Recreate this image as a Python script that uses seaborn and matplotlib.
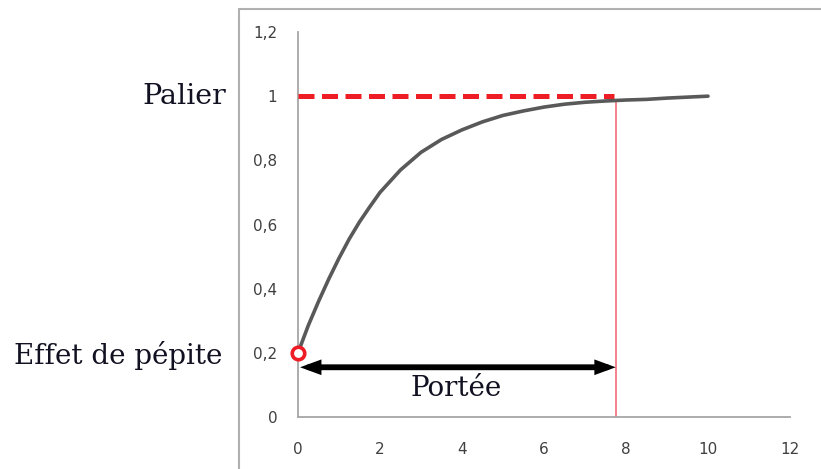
import matplotlib
matplotlib.use("Agg")
import matplotlib.pyplot as plt
import seaborn as sns
import pandas as pd

sns.set_theme(style="white")
plt.rcParams['font.family'] = ['DejaVu Sans']

# Data
lag = [0.0, 0.25, 0.5, 0.75, 1.0, 1.25, 1.5, 1.75, 2.0, 2.5, 3.0, 3.5, 4.0, 4.5,
       5.0, 5.5, 6.0, 6.5, 7.0, 7.5, 8.0, 8.5, 9.0, 9.5, 10.0]
gamma = [0.20, 0.285, 0.36, 0.43, 0.495, 0.555, 0.608, 0.655, 0.70, 0.77, 0.825, 0.865,
         0.895, 0.92, 0.94, 0.954, 0.966, 0.975, 0.981, 0.985, 0.988, 0.99, 0.994,
         0.997, 1.0]
nugget = 0.2
sill = 1.0
range_ = 7.75
arrow_y = 0.155
x_ticks = [0, 2, 4, 6, 8, 10, 12]
y_ticks = [0, 0.2, 0.4, 0.6, 0.8, 1.0, 1.2]
y_tick_labels = ["0", "0,2", "0,4", "0,6", "0,8", "1", "1,2"]

df = pd.DataFrame({"h": lag, "g": gamma})

W, H = 821, 469
fig = plt.figure(figsize=(W / 100, H / 100), dpi=100)

# outer frame (light grey border at left and top)
fig.add_artist(plt.Line2D([239 / W, 239 / W], [0, 1 - 9 / H], color="#b0b0b0", lw=1.5,
                          transform=fig.transFigure))
fig.add_artist(plt.Line2D([239 / W, 1], [1 - 9 / H, 1 - 9 / H], color="#b0b0b0", lw=1.5,
                          transform=fig.transFigure))

ax = fig.add_axes([298 / W, (H - 417) / H, (790 - 298) / W, (417 - 32) / H])
ax.set_xlim(0, 12)
ax.set_ylim(0, 1.2)

# sill dashed line
ax.plot([0, range_ - 0.05], [sill, sill], color="#ee1c25", lw=3.6,
        dashes=(3.2, 1.5), zorder=3)
# range vertical line
ax.plot([range_, range_], [0, 0.985], color="#f06070", lw=1.1, zorder=2)

# variogram curve
sns.lineplot(data=df, x="h", y="g", ax=ax, color="#595959", lw=2.6, zorder=4)

# nugget marker
ax.plot([0], [nugget], marker="o", ms=9, mfc="white", mec="#ee1c25", mew=2.6,
        zorder=5, clip_on=False)

# range arrow
ax.annotate("", xy=(range_, arrow_y), xytext=(0.05, arrow_y),
            arrowprops=dict(arrowstyle="<|-|>,head_length=0.6,head_width=0.22",
                            color="black", lw=4.2, shrinkA=0, shrinkB=0,
                            joinstyle="miter"))
ax.text(3.85, 0.088, "Portée", family="DejaVu Serif", fontsize=20,
        color="#111122", ha="center", va="center")

ax.set_xticks(x_ticks)
ax.set_xticklabels([str(t) for t in x_ticks])
ax.set_yticks(y_ticks)
ax.set_yticklabels(y_tick_labels)
ax.tick_params(axis="both", length=0, labelsize=11, labelcolor="#404040")
ax.tick_params(axis="x", pad=18)
ax.tick_params(axis="y", pad=15)
ax.set_xlabel("")
ax.set_ylabel("")
for s in ["top", "right"]:
    ax.spines[s].set_visible(False)
for s in ["left", "bottom"]:
    ax.spines[s].set_color("#a6a6a6")
    ax.spines[s].set_linewidth(1.3)

fig.text(226 / W, 1 - 97 / H, "Palier", family="DejaVu Serif", fontsize=20.5,
         color="#111122", ha="right", va="center")
fig.text(222 / W, 1 - 355 / H, "Effet de pépite", family="DejaVu Serif", fontsize=20,
         color="#111122", ha="right", va="center")

fig.savefig("out.png", dpi=100)
